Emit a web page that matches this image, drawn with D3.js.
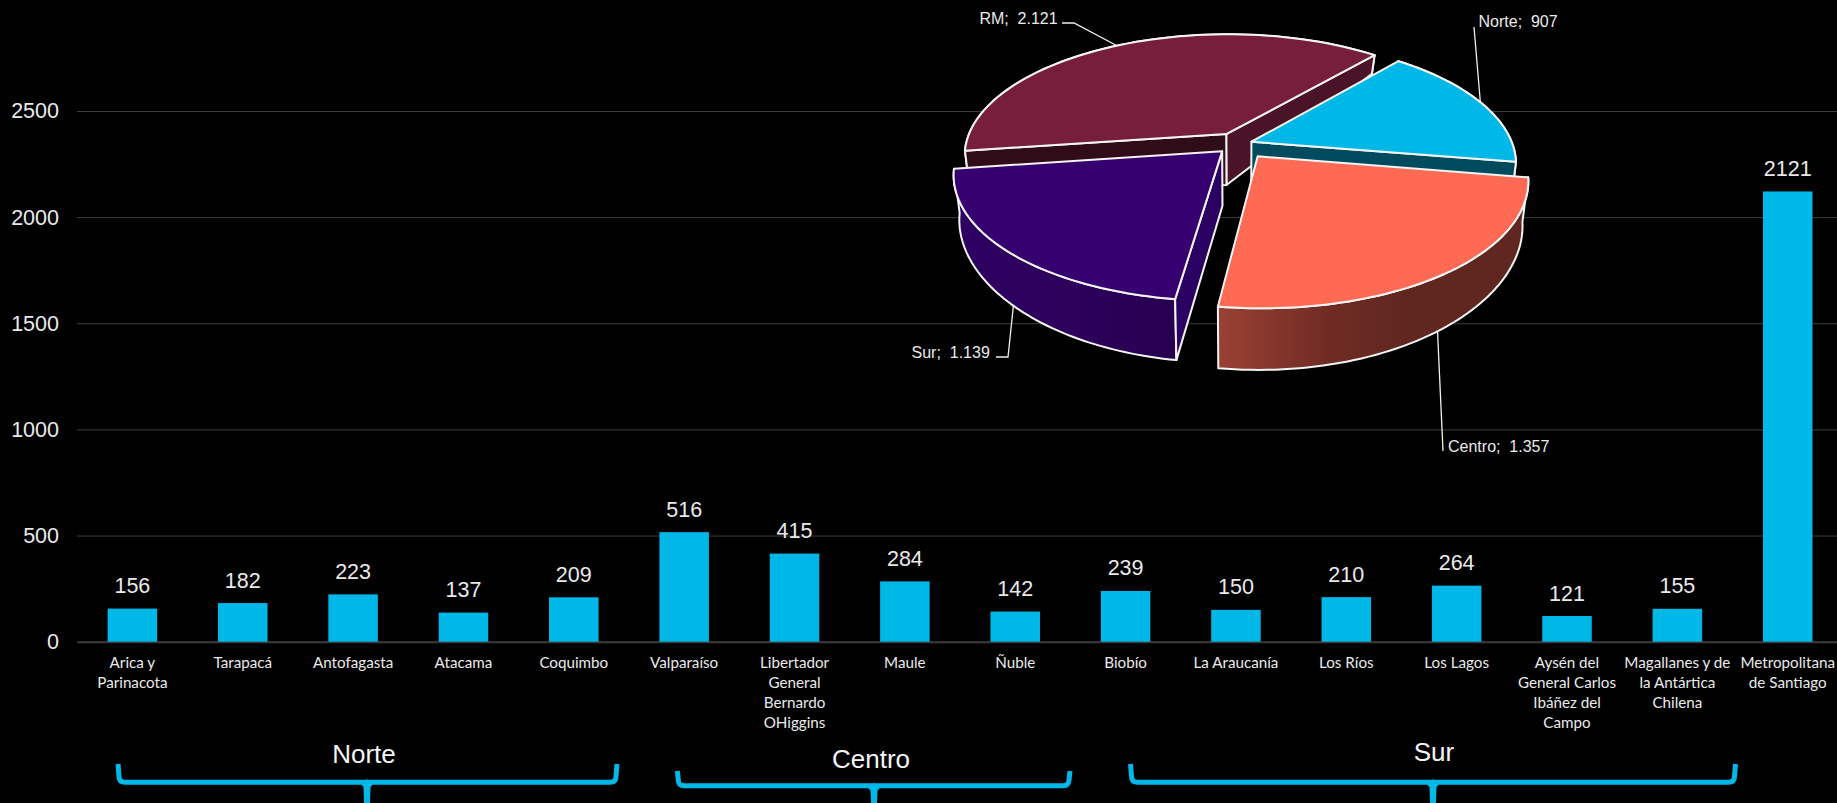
<!DOCTYPE html>
<html><head><meta charset="utf-8">
<script src="https://cdnjs.cloudflare.com/ajax/libs/d3/7.8.5/d3.min.js"></script>
<style>html,body{margin:0;padding:0;background:#000;overflow:hidden}svg{display:block}text{font-family:"Liberation Sans",Arial,sans-serif}</style>
</head><body><svg id="c" width="1837" height="803"></svg>
<script>
const categories=["Arica y\nParinacota","Tarapacá","Antofagasta","Atacama","Coquimbo","Valparaíso","Libertador\nGeneral\nBernardo\nOHiggins","Maule","Ñuble","Biobío","La Araucanía","Los Ríos","Los Lagos","Aysén del\nGeneral Carlos\nIbáñez del\nCampo","Magallanes y de\nla Antártica\nChilena","Metropolitana\nde Santiago"];
const values=[156,182,223,137,209,516,415,284,142,239,150,210,264,121,155,2121];
const yTicks=[0,500,1000,1500,2000,2500];
const zones=["Norte","Centro","Sur","RM"];
const zoneValues=[907,1357,1139,2121];

const BLUE="#00b8e8",TXT="#eaeaea";
const svg=d3.select("#c");
const defs=svg.append("defs");
const x=d3.scaleBand().domain(categories).range([77.2,1842.9]).paddingInner(.5514).paddingOuter(.2757);
const y=d3.scaleLinear().domain([0,2500]).range([641.7,111]);

// y axis + gridlines
const gy=svg.append("g").attr("transform","translate(77,0)").call(d3.axisLeft(y).tickValues(yTicks).tickSize(-1760).tickPadding(18).tickFormat(d3.format("d")));
gy.select(".domain").remove();
gy.selectAll("line").attr("stroke","#3c3c3c").attr("stroke-width",d=>d===0?2:1);
gy.selectAll("text").attr("fill",TXT).attr("font-size",21.5).attr("font-family","Liberation Sans");

// bars
svg.append("g").selectAll("rect").data(values).join("rect")
 .attr("x",(d,i)=>x(categories[i])).attr("width",x.bandwidth())
 .attr("y",d=>y(d)).attr("height",d=>y(0)-y(d)).attr("fill",BLUE);
svg.append("g").selectAll("text").data(values).join("text")
 .attr("x",(d,i)=>x(categories[i])+x.bandwidth()/2).attr("y",d=>y(d)-15.5)
 .attr("text-anchor","middle").attr("font-size",21.5).attr("fill",TXT).text(d=>d);

// x axis
const gx=svg.append("g").attr("transform","translate(0,641.7)").call(d3.axisBottom(x).tickSize(0).tickFormat(""));
gx.select(".domain").remove();
gx.selectAll(".tick").each(function(c){
  const t=d3.select(this).select("text").attr("y",0).attr("dy",null).text(null)
   .attr("font-size",15.2).attr("fill",TXT).attr("text-anchor","middle").style("font-family","Lato");
  c.split("\n").forEach((l,i)=>t.append("tspan").attr("x",0).attr("y",26.5+i*19.8).text(l));
});

// brackets
const brackets=[
 {label:"Norte",l:118,r:617,c:367,top:764,h:782.3,tx:364,ty:763},
 {label:"Centro",l:677.3,r:1070,c:874,top:771,h:785.7,tx:871,ty:768},
 {label:"Sur",l:1130.5,r:1735.5,c:1433,top:764,h:782.3,tx:1434,ty:761}];
const gb=svg.append("g");
brackets.forEach(b=>{
 gb.append("path").attr("fill","none").attr("stroke",BLUE).attr("stroke-width",5)
  .attr("d",`M${b.l},${b.top}L${b.l+1},${b.h-6}Q${b.l+1},${b.h} ${b.l+7},${b.h}L${b.r-7},${b.h}Q${b.r-1},${b.h} ${b.r-1},${b.h-6}L${b.r},${b.top}`);
 gb.append("path").attr("fill",BLUE).attr("d",`M${b.c},${b.h-4}Q${b.c+1},${b.h+2} ${b.c+6},${b.h+2}L${b.c+3.5},${b.h+5}L${b.c+3},803L${b.c-3},803L${b.c-3.5},${b.h+5}L${b.c-6},${b.h+2}Q${b.c-1},${b.h+2} ${b.c},${b.h-4}Z`);
 gb.append("text").attr("x",b.tx).attr("y",b.ty).attr("text-anchor","middle").attr("font-size",26).attr("fill","#f5f5f5").text(b.label);
});

// pie labels + leaders (drawn first: the pie hides their inner ends)
const line=d3.line();
const es=d3.formatLocale({decimal:",",thousands:".",grouping:[3],currency:["$",""]}).format(",d");
const labelPos={RM:{x:979.4,y:24,lead:[[1062,23],[1074,23],[1125,50]]},
 Norte:{x:1478.5,y:27,lead:[[1474,27],[1481,110]]},
 Centro:{x:1448,y:451.5,lead:[[1443,451],[1437,320]]},
 Sur:{x:911.5,y:357.5,lead:[[996,357],[1008,357],[1014,300]]}};
zones.forEach((z,i)=>{
 const p=labelPos[z];
 svg.append("path").attr("d",line(p.lead)).attr("fill","none").attr("stroke","#f0f0f0").attr("stroke-width",1.3);
 svg.append("text").attr("x",p.x).attr("y",p.y).attr("font-size",16).attr("fill",TXT).style("white-space","pre").text(`${z};  ${es(zoneValues[i])}`);
});

// 3D exploded pie: unit circle -> screen through a perspective projection
const C={x:1238,y:144},A=261,B=120.5,K=0.175;
const rot=-49.7*Math.PI/180;
const explode=[0.055,0.125,0.085,0.095];
const depth=d3.scaleLinear().domain([-0.8,0,1]).range([24,54,61]);
const shrink=0.98;
function topPt(u,v){const w=1-K*v;return [C.x+A*u/w,C.y+B*v/w];}
function botPt(u,v){const p=topPt(u,v);return [C.x+(p[0]-C.x)*shrink,p[1]+depth(v)-10*u*u];}
const arcs=d3.pie().sort(null).startAngle(rot).endAngle(rot+2*Math.PI)(zoneValues);
const sliceStyle={
 Norte:{fill:BLUE,side:"#004b5e",startCut:null,endCut:"#004b5e"},
 Centro:{fill:"#ff6a55",side:"url(#gC)",startCut:null,endCut:null},
 Sur:{fill:"#360070",side:"url(#gS)",startCut:"#2a0062",endCut:null},
 RM:{fill:"#771e3d",side:"#4a1328",startCut:"#2f0c17",endCut:"#4a1328"}};
function grad(id,stops){const g=defs.append("linearGradient").attr("id",id);stops.forEach(s=>g.append("stop").attr("offset",s[0]).attr("stop-color",s[1]));}
grad("gC",[[0,"#9a4134"],[.35,"#702c24"],[.6,"#602720"],[1,"#602720"]]);
grad("gS",[[0,"#2e0062"],[.5,"#2d005c"],[1,"#260050"]]);
const gp=svg.append("g").attr("stroke","#f4f4f4").attr("stroke-width",2).attr("stroke-linejoin","round");
const drawOrder=["RM","Norte","Sur","Centro"];
drawOrder.forEach(zn=>{
 const i=zones.indexOf(zn),a=arcs[i],st=sliceStyle[zn];
 const mid=(a.startAngle+a.endAngle)/2,ex=explode[i]*Math.cos(mid),ey=explode[i]*Math.sin(mid);
 const thetas=d3.range(0,61).map(k=>a.startAngle+(a.endAngle-a.startAngle)*k/60);
 const pt=(f,t)=>f(ex+Math.cos(t),ey+Math.sin(t));
 const ap=topPt(ex,ey),apB=botPt(ex,ey);
 const side=thetas.map(t=>pt(topPt,t)).concat(thetas.slice().reverse().map(t=>pt(botPt,t)));
 gp.append("path").attr("d",line(side)+"Z").attr("fill",st.side);
 if(st.endCut)gp.append("path").attr("d",line([ap,pt(topPt,a.endAngle),pt(botPt,a.endAngle),apB])+"Z").attr("fill",st.endCut);
 if(st.startCut)gp.append("path").attr("d",line([ap,pt(topPt,a.startAngle),pt(botPt,a.startAngle),apB])+"Z").attr("fill",st.startCut);
 gp.append("path").attr("d",line([ap].concat(thetas.map(t=>pt(topPt,t))))+"Z").attr("fill",st.fill);
});
</script></body></html>
